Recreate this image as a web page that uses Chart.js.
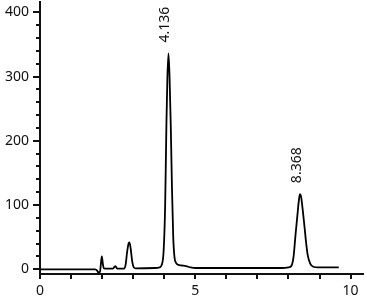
<!DOCTYPE html>
<html>
<head>
<meta charset="utf-8">
<script src="https://cdn.jsdelivr.net/npm/chart.js@4"></script>
<style>
html,body{margin:0;padding:0;background:#fff;}
#wrap{width:367px;height:300px;}
</style>
</head>
<body>
<div id="wrap"><canvas id="c" width="367" height="300"></canvas></div>
<script>
// Retention time (min) and detector signal
const times = [0, 1.78, 1.84, 1.88, 1.93, 1.96, 1.99, 2.02, 2.05, 2.10, 2.35, 2.40, 2.43, 2.47, 2.52,
  2.70, 2.76, 2.80, 2.85, 2.88, 2.92, 2.97, 3.02, 3.08, 3.70, 3.85, 3.92, 3.98, 4.03, 4.07, 4.10,
  4.136, 4.17, 4.21, 4.25, 4.29, 4.33, 4.38, 4.45, 4.55, 4.70, 4.85, 5.00, 7.80, 8.00, 8.09, 8.16,
  8.23, 8.28, 8.33, 8.368, 8.41, 8.46, 8.52, 8.56, 8.62, 8.70, 8.80, 8.95, 9.62];
const signal = [0, 0, -2, -5, -4, 8, 20, 10, 2, 1, 1, 4, 5, 2, 1,
  1, 8, 25, 40, 42, 32, 12, 3, 1.5, 2, 3, 7, 28, 100, 225, 295,
  336, 302, 225, 125, 50, 19, 10, 7, 6, 5, 3, 2, 2, 3, 5, 18,
  55, 80, 105, 117, 112, 92, 65, 45, 22, 9, 4, 3, 3];

const peakTimes = [4.136, 8.368];
const peakHeights = [336, 117];
const peakLabels = ['4.136', '8.368'];

const xTicks = [0, 1, 2, 3, 4, 5, 6, 7, 8, 9, 10];
const xLabelTicks = [0, 5, 10];
const yTicks = [0, 20, 40, 60, 80, 100, 120, 140, 160, 180, 200, 220, 240, 260, 280, 300, 320, 340, 360, 380, 400];
const yLabelTicks = [0, 100, 200, 300, 400];

const FONT = {family: '"Noto Sans", "Liberation Sans", sans-serif', size: 14};

const tickPlugin = {
  id: 'tickMarks',
  afterDraw(chart) {
    const ctx = chart.ctx;
    const xs = chart.scales.x, ys = chart.scales.y;
    const ca = chart.chartArea;
    ctx.save();
    ctx.strokeStyle = '#111';
    ctx.lineWidth = 2;
    yTicks.forEach(v => {
      const py = Math.round(ys.getPixelForValue(v));
      const len = yLabelTicks.includes(v) ? 7 : 4;
      ctx.beginPath();
      ctx.moveTo(ca.left - len, py);
      ctx.lineTo(ca.left, py);
      ctx.stroke();
    });
    xTicks.forEach(v => {
      const px = Math.round(xs.getPixelForValue(v));
      ctx.beginPath();
      ctx.moveTo(px, ca.bottom);
      ctx.lineTo(px, ca.bottom + 5);
      ctx.stroke();
    });
    // peak labels
    ctx.fillStyle = '#111';
    ctx.font = FONT.size + 'px ' + FONT.family;
    ctx.textAlign = 'left';
    ctx.textBaseline = 'alphabetic';
    peakTimes.forEach((t, i) => {
      const px = xs.getPixelForValue(t);
      const py = ys.getPixelForValue(peakHeights[i]);
      ctx.save();
      ctx.translate(px + 1, py - 11);
      ctx.rotate(-Math.PI / 2);
      ctx.fillText(peakLabels[i], 0, 0);
      ctx.restore();
    });
    ctx.restore();
  }
};

new Chart(document.getElementById('c'), {
  type: 'line',
  data: {
    datasets: [{
      data: times.map((t, i) => ({x: t, y: signal[i]})),
      borderColor: '#000',
      borderWidth: 1.8,
      pointRadius: 0,
      fill: false,
      cubicInterpolationMode: 'monotone',
      tension: 0.4
    }]
  },
  options: {
    responsive: false,
    animation: false,
    devicePixelRatio: 1,
    layout: {padding: {top: 2, right: 4, left: 0, bottom: 0}},
    plugins: {legend: {display: false}, tooltip: {enabled: false}},
    scales: {
      x: {
        type: 'linear',
        min: 0,
        max: 10.4,
        afterBuildTicks(s) { s.ticks = xTicks.map(v => ({value: v})); },
        afterFit(s) { s.height = 26; s.paddingLeft = 0; s.paddingRight = 0; },
        ticks: {
          autoSkip: false,
          maxRotation: 0,
          padding: 9,
          color: '#111',
          font: FONT,
          callback: v => xLabelTicks.includes(v) ? String(v) : ''
        },
        grid: {display: false, drawTicks: false},
        border: {display: true, color: '#111', width: 2}
      },
      y: {
        type: 'linear',
        min: -7.3,
        max: 416,
        afterBuildTicks(s) { s.ticks = yTicks.map(v => ({value: v})); },
        afterFit(s) { s.width = 40; s.paddingTop = 0; s.paddingBottom = 0; },
        ticks: {
          autoSkip: false,
          crossAlign: 'near',
          padding: 11,
          color: '#111',
          font: FONT,
          callback: v => yLabelTicks.includes(v) ? String(v) : ''
        },
        grid: {display: false, drawTicks: false},
        border: {display: true, color: '#111', width: 2}
      }
    }
  },
  plugins: [tickPlugin]
});
</script>
</body>
</html>
